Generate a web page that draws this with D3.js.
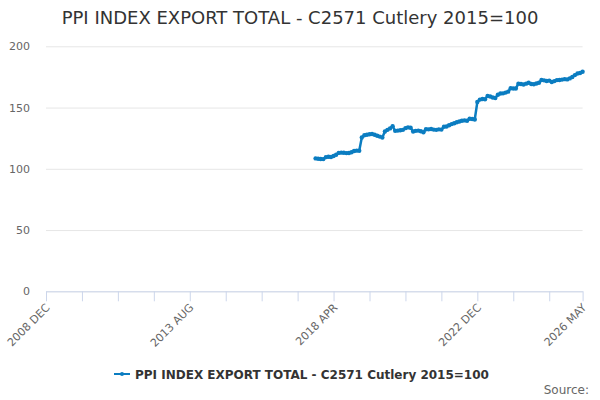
<!DOCTYPE html>
<html>
<head>
<meta charset="utf-8">
<script src="https://cdn.jsdelivr.net/npm/d3@7"></script>
<style>
  body { margin: 0; background: #fff; }
  text { font-family: "DejaVu Sans", sans-serif; }
</style>
</head>
<body>
<script>
"use strict"

/* dati */
const titolo = "PPI INDEX EXPORT TOTAL - C2571 Cutlery 2015=100";
const nomeSerie = "PPI INDEX EXPORT TOTAL - C2571 Cutlery 2015=100";
const mesi = ["JAN", "FEB", "MAR", "APR", "MAY", "JUN", "JUL", "AUG", "SEP", "OCT", "NOV", "DEC"];
/* asse x: mesi da 2008 DEC (indice 0) a 2026 MAY (indice 209) */
const inizioAnno = 2008, inizioMese = 11;
const numeroMesi = 210;
const passoTick = 14;
const etichetteX = ["2008 DEC", "2013 AUG", "2018 APR", "2022 DEC", "2026 MAY"];
const tickY = [0, 50, 100, 150, 200];
/* la serie parte da 2017 SEP (indice 105) */
const primoIndice = 105;
const valori = [
    108.5, 108.2, 108.0, 107.9, 109.5, 109.8, 109.6, 110.5, 111.5, 113.0,
    113.2, 113.1, 112.8, 112.9, 113.5, 114.5, 114.8, 114.7, 125.5, 127.4,
    127.8, 128.2, 128.4, 127.8, 127.0, 126.3, 125.6, 130.5, 131.8, 133.0,
    134.8, 131.0, 131.2, 131.5, 131.8, 133.2, 133.8, 133.5, 130.5, 131.0,
    131.2, 130.6, 129.8, 132.3, 132.2, 132.5, 132.0, 131.8, 132.2, 132.0,
    134.3, 134.5, 135.5, 136.5, 137.2, 138.0, 138.6, 139.2, 139.5, 139.2,
    140.8, 140.6, 140.3, 154.5, 156.5, 157.0, 156.8, 159.5, 159.0, 158.2,
    157.8, 160.5, 161.5, 161.6, 162.2, 163.0, 165.8, 165.5, 165.6, 169.5,
    169.2, 168.8, 169.5, 170.3, 169.2, 169.0, 169.6, 170.3, 172.5, 172.2,
    171.7, 172.0, 170.8, 171.6, 172.4, 172.5, 172.8, 173.2, 173.0, 173.8,
    175.0, 176.5, 177.8, 178.2, 179.2
];

function etichettaMese(i) {
    const m = inizioMese + i;
    return (inizioAnno + Math.floor(m / 12)) + " " + mesi[m % 12];
}

const grafico = { larghezza: 600, altezza: 400 };
const margini = { sinistra: 46, destra: 17.4, alto: 46.3, basso: 108.7 };

const svg = d3.select("body")
    .append("svg")
    .attr("width", grafico.larghezza)
    .attr("height", grafico.altezza);

const scalaX = d3.scaleLinear()
    .domain([0, numeroMesi - 1])
    .range([margini.sinistra, grafico.larghezza - margini.destra]);

const scalaY = d3.scaleLinear()
    .domain([0, 200])
    .range([grafico.altezza - margini.basso, margini.alto]);

/* titolo */
svg.append("text")
    .attr("x", 300)
    .attr("y", 24)
    .attr("text-anchor", "middle")
    .style("font-size", "18px")
    .style("fill", "#333333")
    .text(titolo);

/* griglia orizzontale ed etichette y */
const asseY = d3.axisLeft(scalaY)
    .tickValues(tickY)
    .tickSize(-(grafico.larghezza - margini.sinistra - margini.destra))
    .tickPadding(16);
const gY = svg.append("g")
    .attr("transform", "translate(" + margini.sinistra + ",0)")
    .call(asseY);
gY.select(".domain").remove();
gY.selectAll("line").attr("stroke", "#e6e6e6");
gY.selectAll("text")
    .style("font-size", "11px")
    .style("fill", "#666666")
    .style("font-family", "DejaVu Sans, sans-serif");

/* asse x */
const valoriTick = d3.range(0, numeroMesi, passoTick).concat([numeroMesi - 1]);
const asseX = d3.axisBottom(scalaX)
    .tickValues(valoriTick)
    .tickSize(10)
    .tickSizeOuter(0)
    .tickFormat(function (d) {
        const e = etichettaMese(d);
        return etichetteX.indexOf(e) >= 0 ? e : "";
    });
const gX = svg.append("g")
    .attr("transform", "translate(0," + scalaY(0) + ")")
    .call(asseX);
gX.select(".domain").attr("stroke", "#ccd6eb");
gX.selectAll("line").attr("stroke", "#ccd6eb");
gX.selectAll("text")
    .style("font-size", "11px")
    .style("fill", "#666666")
    .style("font-family", "DejaVu Sans, sans-serif")
    .attr("text-anchor", "end")
    .attr("dy", null)
    .attr("y", 0)
    .attr("transform", "translate(4,17) rotate(-45)");

/* serie */
const punti = valori.map(function (v, k) { return { i: primoIndice + k, v: v }; });
const colore = "#0b7dc1";
const linea = d3.line()
    .x(function (d) { return scalaX(d.i); })
    .y(function (d) { return scalaY(d.v); });
svg.append("path")
    .datum(punti)
    .attr("d", linea)
    .attr("fill", "none")
    .attr("stroke", colore)
    .attr("stroke-width", 2.5);
svg.append("g")
    .selectAll("circle")
    .data(punti)
    .enter()
    .append("circle")
    .attr("cx", function (d) { return scalaX(d.i); })
    .attr("cy", function (d) { return scalaY(d.v); })
    .attr("r", 2.2)
    .attr("fill", colore);

/* legenda */
const legenda = svg.append("g").attr("transform", "translate(0,374)");
legenda.append("line")
    .attr("x1", 114).attr("x2", 130)
    .attr("y1", 0).attr("y2", 0)
    .attr("stroke", colore)
    .attr("stroke-width", 2);
legenda.append("circle")
    .attr("cx", 122).attr("cy", 0).attr("r", 2)
    .attr("fill", colore);
legenda.append("text")
    .attr("x", 135)
    .attr("y", 4.5)
    .style("font-size", "12px")
    .style("font-weight", "bold")
    .style("fill", "#333333")
    .text(nomeSerie);

/* fonte */
svg.append("text")
    .attr("x", 589)
    .attr("y", 394)
    .attr("text-anchor", "end")
    .style("font-size", "12px")
    .style("fill", "#666666")
    .text("Source:");
</script>
</body>
</html>
